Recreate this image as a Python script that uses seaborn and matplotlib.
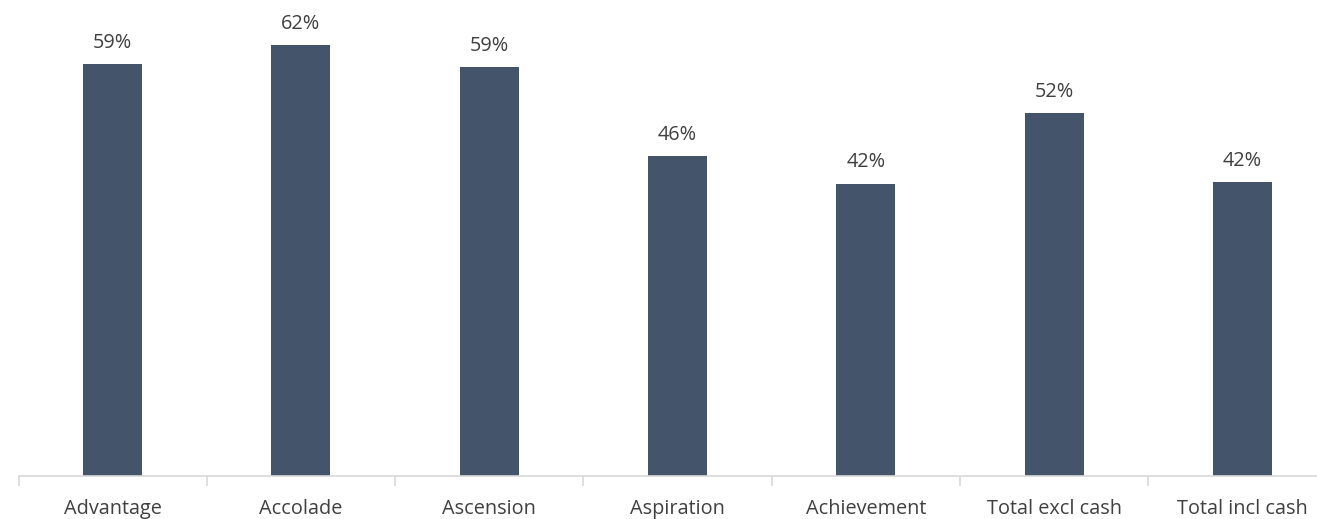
import matplotlib
matplotlib.use("Agg")
import matplotlib.pyplot as plt
import seaborn as sns
import pandas as pd
import numpy as np

categories = ["Advantage", "Accolade", "Ascension", "Aspiration",
              "Achievement", "Total excl cash", "Total incl cash"]
shares = [0.592, 0.619, 0.588, 0.459, 0.420, 0.522, 0.422]

df = pd.DataFrame({"category": categories, "share": shares})

sns.set_style("white")
plt.rcParams["font.family"] = ["Open Sans", "DejaVu Sans"]

fig = plt.figure(figsize=(13.17, 5.19), dpi=100)
ymax = 0.66
slot = 188.3
ax = fig.add_axes([18.5 / 1317, 43.5 / 519, 7 * slot / 1317, ymax * 695 / 519])

sns.barplot(data=df, x="category", y="share", color="#44546A",
            saturation=1, width=0.313, linewidth=0, ax=ax)

ax.set_xlim(-0.5, len(categories) - 0.5)
ax.set_ylim(0, ymax)
ax.set_xlabel("")
ax.set_ylabel("")
ax.set_yticks([])

for s in ["top", "right", "left"]:
    ax.spines[s].set_visible(False)
ax.spines["bottom"].set_color("#D9D9D9")
ax.spines["bottom"].set_linewidth(1.2)

ax.set_xticks(range(len(categories)))
ax.set_xticklabels(categories, fontsize=14.3, color="#404040")
ax.tick_params(axis="x", which="major", length=0, pad=17)
ax.set_xticks(np.arange(-0.5, len(categories), 1.0), minor=True)
ax.tick_params(axis="x", which="minor", length=7, width=1.2,
               color="#D9D9D9", direction="out", bottom=True)

for bar, v in zip(ax.patches, shares):
    ax.annotate(f"{v:.0%}", (bar.get_x() + bar.get_width() / 2, bar.get_height()),
                xytext=(0, 8), textcoords="offset points",
                ha="center", va="bottom", fontsize=14.3, color="#404040")

fig.savefig("out.png", dpi=100)
